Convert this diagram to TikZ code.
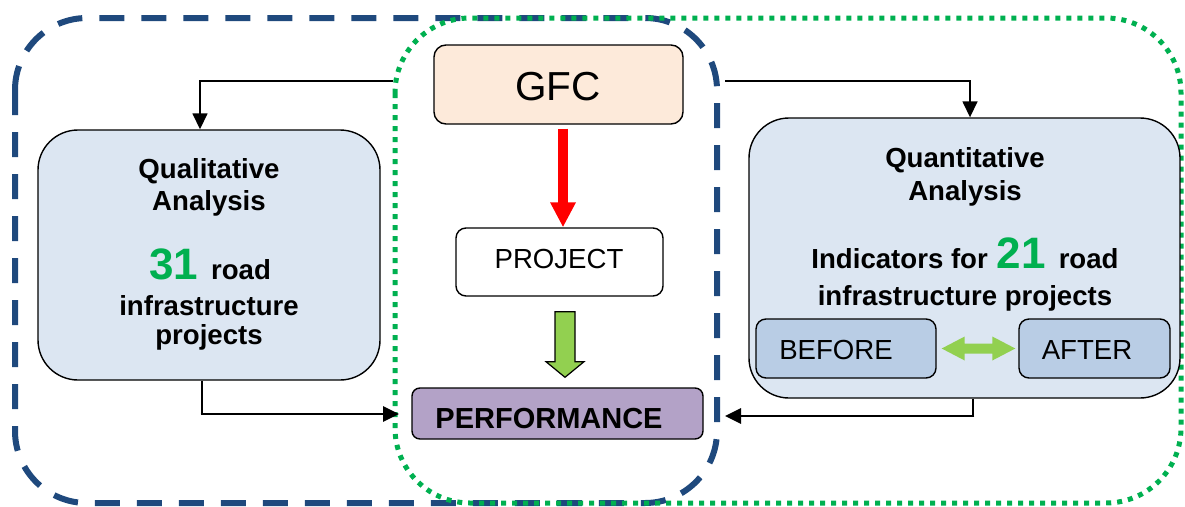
\documentclass[tikz,border=0pt]{standalone}
\usepackage{fontspec}
\setmainfont{Liberation Sans}
\usetikzlibrary{arrows.meta,calc}
\definecolor{qfill}{HTML}{DCE6F2}
\definecolor{gfcfill}{HTML}{FDEADA}
\definecolor{perffill}{HTML}{B3A2C7}
\definecolor{bafill}{HTML}{B9CDE5}
\definecolor{lgreen}{HTML}{92D050}
\definecolor{dgreen}{HTML}{00B050}
\definecolor{dblue}{HTML}{1F497D}
\tikzset{
  box/.style={draw=black, line width=1.4pt, inner sep=0pt},
  bigbox/.style={box, fill=qfill, rounded corners=40pt},
  btxt/.style={anchor=base, inner sep=0pt, font=\fontsize{27.6}{32}\selectfont\bfseries},
  rtxt/.style={anchor=base, inner sep=0pt, font=\fontsize{27.6}{32}\selectfont},
  conn/.style={draw=black, line width=1.6pt},
  tip/.style={-{Triangle[length=16pt,width=15pt]}},
  bluedash/.style={draw=dblue, line width=6pt, dash pattern=on 25pt off 17pt, rounded corners=72pt},
  greendot/.style={draw=dgreen, line width=5pt, dash pattern=on 5pt off 6pt, rounded corners=75pt},
}
\newcommand{\bignum}[1]{{\color{dgreen}\fontsize{44}{44}\selectfont\bfseries #1}}
\begin{document}
\begin{tikzpicture}[x=1pt,y=-1pt]
\useasboundingbox (0,0) rectangle (1185,506);
% frames
\draw[bluedash] (15,18) rectangle (717,503);
\draw[greendot] (395,18) rectangle (1181,503);

% boxes
\node[bigbox, minimum width=342pt, minimum height=250pt] (qual) at (209,255) {};
\node[bigbox, minimum width=431pt, minimum height=280pt] (quant) at (964.5,258) {};
\node[box, fill=gfcfill, rounded corners=12pt, minimum width=249pt, minimum height=79pt] (gfc) at (558.5,84.5) {};
\node[box, fill=white, rounded corners=10pt, minimum width=207pt, minimum height=68pt] (proj) at (559.5,262) {};
\node[box, fill=perffill, rounded corners=8pt, minimum width=291pt, minimum height=51pt] (perf) at (557.5,413.5) {};
\node[box, fill=bafill, rounded corners=10pt, minimum width=180pt, minimum height=59pt] (before) at (846,348.5) {};
\node[box, fill=bafill, rounded corners=10pt, minimum width=151pt, minimum height=59pt] (after) at (1094.5,348.5) {};

% texts
\node[anchor=base, inner sep=0pt, font=\fontsize{40.5}{40}\selectfont] (gfcT) at (558,100) {GFC};
\node[rtxt] (projT) at (559,268) {PROJECT};
\node[btxt, font=\fontsize{29}{32}\selectfont\bfseries] (perfT) at (549,428) {PERFORMANCE};
\node[rtxt] (beforeT) at (836,359) {BEFORE};
\node[rtxt] (afterT) at (1087,359) {AFTER};

\node[btxt] (q1) at (209,178) {Qualitative};
\node[btxt] (q2) at (209,210) {Analysis};
\node[btxt] (q3) at (210,279) {\bignum{31}\hspace{13pt}road};
\node[btxt] (q4) at (209,315) {infrastructure};
\node[btxt] (q5) at (209,344) {projects};

\node[btxt] (n1) at (965,167) {Quantitative};
\node[btxt] (n2) at (965,200) {Analysis};
\node[btxt] (n3) at (965,268) {Indicators for\hspace{9pt}\bignum{21}\hspace{13pt}road};
\node[btxt] (n4) at (965,305) {infrastructure projects};

% red arrow GFC -> PROJECT
\draw[red, line width=10pt, -{Triangle[length=25pt,width=24pt]}]
  ($(gfc.south)+(4.5,4)$) -- ($(proj.north)+(3.5,0)$);

% green block arrow PROJECT -> PERFORMANCE
\coordinate (ga) at ($(proj.south)+(5.5,15)$);
\coordinate (gb) at ($(perf.north)+(7.5,-10)$);
\filldraw[fill=lgreen, draw=black, line width=1.2pt]
  ($(ga)+(-10,0)$) -- ($(ga)+(10,0)$) -- ($(ga)+(10,50)$) -- ($(ga)+(19,50)$) -- (gb)
  -- ($(ga)+(-19,50)$) -- ($(ga)+(-10,50)$) -- cycle;

% green double arrow BEFORE <-> AFTER
\coordinate (da) at ($(before.east)+(5,0)$);
\coordinate (db) at ($(after.west)+(-3,0)$);
\fill[lgreen] (da) -- ($(da)+(23,-12)$) -- ($(da)+(23,-5)$) -- ($(db)+(-23,-5)$) -- ($(db)+(-23,-12)$)
  -- (db) -- ($(db)+(-23,12)$) -- ($(db)+(-23,5)$) -- ($(da)+(23,5)$) -- ($(da)+(23,12)$) -- cycle;

% connectors
\coordinate (tl) at (393,81);
\coordinate (tr) at (725,81);
\draw[conn, tip] (tl) -| ([xshift=-9pt]qual.north);
\draw[conn, tip] (tr) -| ([xshift=5.5pt]quant.north);

\coordinate (blc) at (202,414);
\coordinate (bl) at (399,414);
\draw[conn] ([xshift=-7pt]qual.south) -- (blc);
\draw[conn, line width=2.8pt, tip] ([xshift=-1.4pt]blc) -- (bl);

\coordinate (brc) at (973,416);
\coordinate (br) at (725,416);
\draw[conn] ([xshift=8.5pt]quant.south) -- (brc);
\draw[conn, line width=2.8pt, tip] ([xshift=1.4pt]brc) -- (br);
\end{tikzpicture}
\end{document}
